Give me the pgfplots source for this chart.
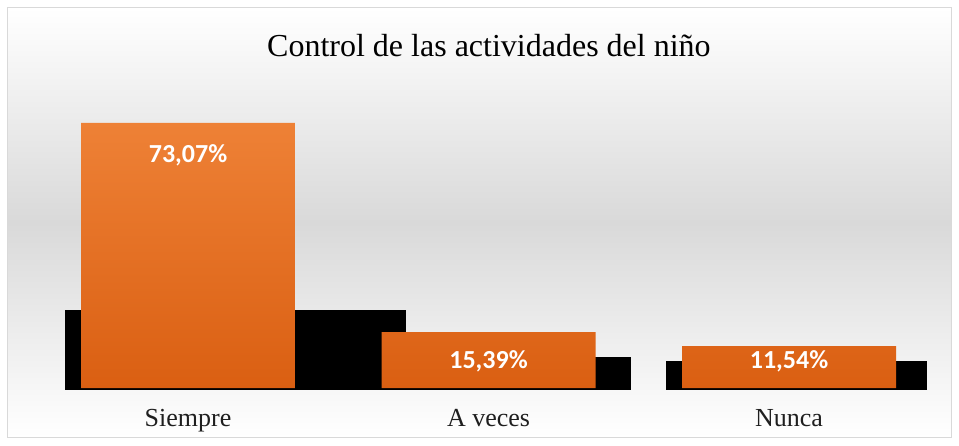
\documentclass[border=0pt]{standalone}
\usepackage{pgfplots}
\pgfplotsset{compat=1.18}
\usepackage{fontspec}
\setmainfont{Liberation Serif}
\newfontfamily\calibri{Carlito}
\definecolor{barTop}{HTML}{EE8136}
\definecolor{barBot}{HTML}{DA5F12}
\definecolor{bgMid}{HTML}{D9D9D9}
\definecolor{frameC}{HTML}{D9D9D9}
\begin{document}
\begin{tikzpicture}
\begin{axis}[
  scale only axis,
  width=943pt, height=429pt,
  xmin=-0.599, xmax=2.539,
  ymin=-13.51, ymax=104.77,
  axis line style={draw=frameC, line width=1pt},
  xtick=\empty, ytick=\empty,
  axis background/.style={top color=white, bottom color=white, middle color=bgMid},
]
% shadows
\addplot[fill=black, draw=none] coordinates {(-0.409,-0.55) (-0.409,21.5) (0.725,21.5) (0.725,-0.55)} -- cycle;
\addplot[fill=black, draw=none] coordinates {(0.59,-0.55) (0.59,8.55) (1.473,8.55) (1.473,-0.55)} -- cycle;
\addplot[fill=black, draw=none] coordinates {(1.591,-0.55) (1.591,7.44) (2.459,7.44) (2.459,-0.55)} -- cycle;
% bars
\addplot[ybar, bar width=0.712, draw=none, top color=barTop, bottom color=barBot]
  coordinates {(0,73.07) (1,15.39) (2,11.54)};
% value labels
\addplot[draw=none, mark=none, nodes near coords, point meta=explicit symbolic,
  every node near coord/.append style={anchor=base, inner sep=0pt, text=white, font=\calibri\bfseries\fontsize{26}{30}\selectfont}]
  coordinates {(0,62.31) [73,07\%] (1,5.51) [15,39\%] (2,5.51) [11,54\%]};
% category labels
\addplot[draw=none, mark=none, nodes near coords, point meta=explicit symbolic,
  every node near coord/.append style={anchor=base, inner sep=0pt, text=black!88, font=\fontsize{26}{30}\selectfont}]
  coordinates {(0,-10.48) [Siempre] (1,-10.48) [A veces] (2,-10.48) [Nunca]};
\node[anchor=base, inner sep=0pt, font=\fontsize{32}{36}\selectfont] at (rel axis cs:0.510,0.8858) {Control de las actividades del niño};
\end{axis}
\path ([shift={(-8pt,-8pt)}]current axis.south west) rectangle ([shift={(8pt,8pt)}]current axis.north east);
\end{tikzpicture}
\end{document}
